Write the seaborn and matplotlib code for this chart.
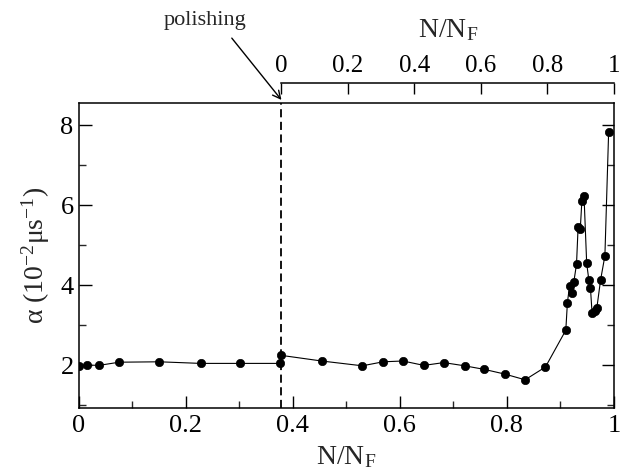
import matplotlib
matplotlib.use("Agg")
import matplotlib.pyplot as plt
import seaborn as sns
import pandas as pd
from matplotlib.ticker import MultipleLocator

# ---- data ----
n_over_nf = [0.001, 0.015, 0.038, 0.076, 0.151, 0.228, 0.302, 0.377, 0.379, 0.454,
             0.530, 0.569, 0.606, 0.645, 0.682, 0.721, 0.758, 0.797, 0.834, 0.872,
             0.910, 0.913, 0.917, 0.922, 0.925, 0.930, 0.933, 0.937, 0.940, 0.944,
             0.949, 0.953, 0.956, 0.959, 0.964, 0.968, 0.975, 0.983, 0.990]
alpha = [1.98, 2.00, 1.99, 2.07, 2.08, 2.04, 2.04, 2.04, 2.24, 2.10,
         1.98, 2.08, 2.10, 1.99, 2.06, 1.98, 1.89, 1.77, 1.63, 1.95,
         2.87, 3.56, 3.98, 3.79, 4.08, 4.52, 5.46, 5.39, 6.10, 6.23,
         4.54, 4.13, 3.93, 3.31, 3.36, 3.43, 4.13, 4.73, 7.83]
polishing_at = 0.379
top_ticks = [0, 0.2, 0.4, 0.6, 0.8, 1]
top_tick_labels = ["0", "0.2", "0.4", "0.6", "0.8", "1"]
bottom_ticks = [0, 0.2, 0.4, 0.6, 0.8, 1]
bottom_tick_labels = ["0", "0.2", "0.4", "0.6", "0.8", "1"]
y_ticks = [2, 4, 6, 8]

df = pd.DataFrame({"x": n_over_nf, "y": alpha})

sns.set_theme(style="ticks")
plt.rcParams["font.family"] = ["Liberation Serif", "DejaVu Serif"]
plt.rcParams["mathtext.fontset"] = "custom"
plt.rcParams["mathtext.rm"] = "Liberation Serif"
plt.rcParams["mathtext.it"] = "Liberation Serif:italic"
plt.rcParams["axes.linewidth"] = 1.1

W, H = 632, 472
fig = plt.figure(figsize=(W / 100, H / 100), dpi=100)
L, R, T, B = 78.5, 614, 103, 408
ax = fig.add_axes([L / W, 1 - B / H, (R - L) / W, (B - T) / H])

sns.lineplot(data=df, x="x", y="y", sort=False, ax=ax, color="black",
             linewidth=0.8, marker="o", markersize=6, markeredgecolor="black",
             markeredgewidth=0.5)

ax.axvline(polishing_at, color="black", lw=1.3, ls=(0, (4.5, 2.5)))

ax.set_xlim(0, 1)
ax.set_ylim(0.925, 8.55)
ax.set_xticks(bottom_ticks)
ax.set_xticklabels(bottom_tick_labels)
ax.xaxis.set_minor_locator(MultipleLocator(0.1))
ax.set_yticks(y_ticks)
ax.yaxis.set_minor_locator(MultipleLocator(1))
ax.tick_params(axis="both", which="major", direction="in", length=9, width=1.0,
               labelsize=19, colors="black")
ax.tick_params(axis="both", which="minor", direction="in", length=5, width=1.0)
ax.tick_params(axis="y", which="both", right=True, left=True)
ax.tick_params(axis="x", which="both", top=False, bottom=True, pad=5)
for s in ax.spines.values():
    s.set_color("black")
    s.set_linewidth(1.1)

ax.set_xlabel("N/N$_\\mathrm{F}$", fontsize=20, labelpad=5)
ax.set_ylabel("α (10$^{-2}$μs$^{-1}$)", fontsize=20, labelpad=6)

# ---- top bracket axis (N/N_F after polishing) ----
pos = ax.get_position()
x0 = pos.x0 + polishing_at * pos.width
wt = (1 - polishing_at) * pos.width
ybr = 1 - 83 / H
tax = fig.add_axes([x0, ybr - 0.02, wt, 0.02])
tax.patch.set_alpha(0)
for k in ("bottom", "left", "right"):
    tax.spines[k].set_visible(False)
tax.spines["top"].set_linewidth(1.1)
tax.spines["top"].set_color("black")
tax.set_xlim(0, 1)
tax.set_yticks([])
tax.xaxis.set_ticks_position("top")
tax.xaxis.set_label_position("top")
tax.set_xticks(top_ticks)
tax.set_xticklabels(top_tick_labels)
tax.tick_params(axis="x", direction="in", length=8, width=1.0, labelsize=18,
                pad=4, colors="black")
tax.set_xlabel("N/N$_\\mathrm{F}$", fontsize=20, labelpad=13)

# ---- polishing annotation ----
ax.annotate("polishing", xy=(polishing_at, 1.01), xycoords=ax.get_xaxis_transform(),
            xytext=(205 / W, 1 - 21 / H), textcoords="figure fraction",
            ha="center", va="center", fontsize=16,
            arrowprops=dict(arrowstyle="->", color="black", lw=1.0,
                            relpos=(0.75, 0.0), shrinkA=4, shrinkB=0,
                            mutation_scale=14))

fig.savefig("out.png", dpi=100)
